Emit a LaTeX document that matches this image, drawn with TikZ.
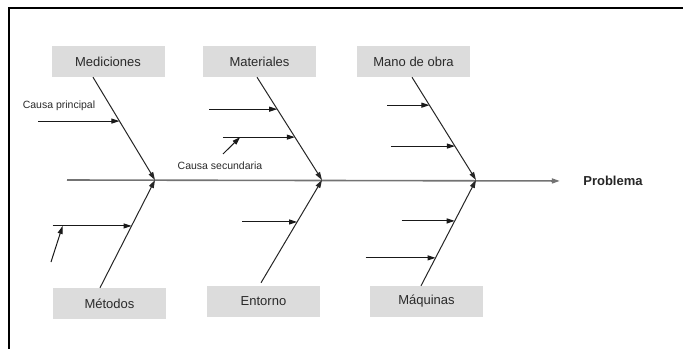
\documentclass[tikz,border=0pt]{standalone}
\usepackage{fontspec}
\setmainfont{Liberation Sans}
\usetikzlibrary{arrows.meta}
\definecolor{cajagris}{HTML}{DCDCDC}
\definecolor{textogris}{HTML}{2A2A2A}
\tikzset{
	caja/.style={fill=cajagris, minimum width=113pt, minimum height=31pt, inner sep=0pt, text=textogris, font=\fontsize{13}{15}\selectfont},
	nota/.style={inner sep=1pt, text=textogris, font=\fontsize{10.5}{12}\selectfont},
	espina/.style={draw=black!55, line width=1.6pt, ->},
	hueso/.style={draw=black!85, line width=1pt, ->},
	flecha/.style={draw=black!90, line width=1pt, ->}
}
\begin{document}
\begin{tikzpicture}[x=1pt, y=-1pt, >={Triangle[length=8pt,width=5pt]}]
		\useasboundingbox (0,0) rectangle (683,349);
		\draw[line width=2pt] (683,8) -- (9,8) -- (9,349);
		% espina central
		\coordinate (cola) at (67,180);
		\coordinate (s1) at (155,180);
		\coordinate (s2) at (322,180);
		\coordinate (s3) at (476,180);
		\node (Pr) at (613,181) [font=\fontsize{13}{15}\selectfont\bfseries, text=black!85] {Problema};
		\draw[espina, shorten >=20pt] (cola) -- (Pr.west);
		% causas de arriba
		\node (Me) at (108,61.5) [caja] {Mediciones};
		\node (Ma) at (259.5,61.5) [caja] {Materiales};
		\node (Mo) at (413.5,61.5) [caja] {Mano de obra};
		\draw[hueso] ([xshift=-15pt]Me.south) -- coordinate[pos=.427] (me1) (s1);
		\draw[hueso] ([xshift=-2.5pt]Ma.south) -- coordinate[pos=.311] (ma1) coordinate[pos=.583] (ma2) (s2);
		\draw[hueso] ([xshift=-1.5pt]Mo.south) -- coordinate[pos=.272] (mo1) coordinate[pos=.67] (mo2) (s3);
		% causas de abajo
		\node (Mt) at (109.5,303.5) [caja] {Métodos};
		\node (En) at (263.5,301.5) [caja] {Entorno};
		\node (Mq) at (426.5,301.5) [caja] {Máquinas};
		\draw[hueso] ([xshift=-9.5pt]Mt.north) -- coordinate[pos=.574] (mt1) (s1);
		\draw[hueso] ([shift={(-2.5pt,3pt)}]En.north) -- coordinate[pos=.592] (en1) (s2);
		\draw[hueso] ([xshift=-5.5pt]Mq.north) -- coordinate[pos=.264] (mq2) coordinate[pos=.613] (mq1) (s3);
		% causas principales y secundarias
		\draw[flecha] ([xshift=-81pt]me1) -- (me1);
		\draw[flecha] ([xshift=-68pt]ma1) -- (ma1);
		\draw[flecha] ([xshift=-72pt]ma2) -- coordinate[pos=.24] (ma2a) (ma2);
		\draw[flecha] ([xshift=-42pt]mo1) -- (mo1);
		\draw[flecha] ([xshift=-64pt]mo2) -- (mo2);
		\draw[flecha] ([xshift=-79pt]mt1) -- coordinate[pos=.127] (mt1a) (mt1);
		\draw[flecha] ([xshift=-55pt]en1) -- (en1);
		\draw[flecha] ([xshift=-53pt]mq1) -- (mq1);
		\draw[flecha] ([xshift=-70pt]mq2) -- (mq2);
		\node (Cp) at (59,106) [nota] {Causa principal};
		\node (Cs) at (220,166) [nota] {Causa secundaria};
		\draw[flecha] ([shift={(3pt,7pt)}]Cs.north) -- (ma2a);
		\coordinate (mt2) at (51,262);
		\draw[flecha] (mt2) -- (mt1a);
\end{tikzpicture}
\end{document}
